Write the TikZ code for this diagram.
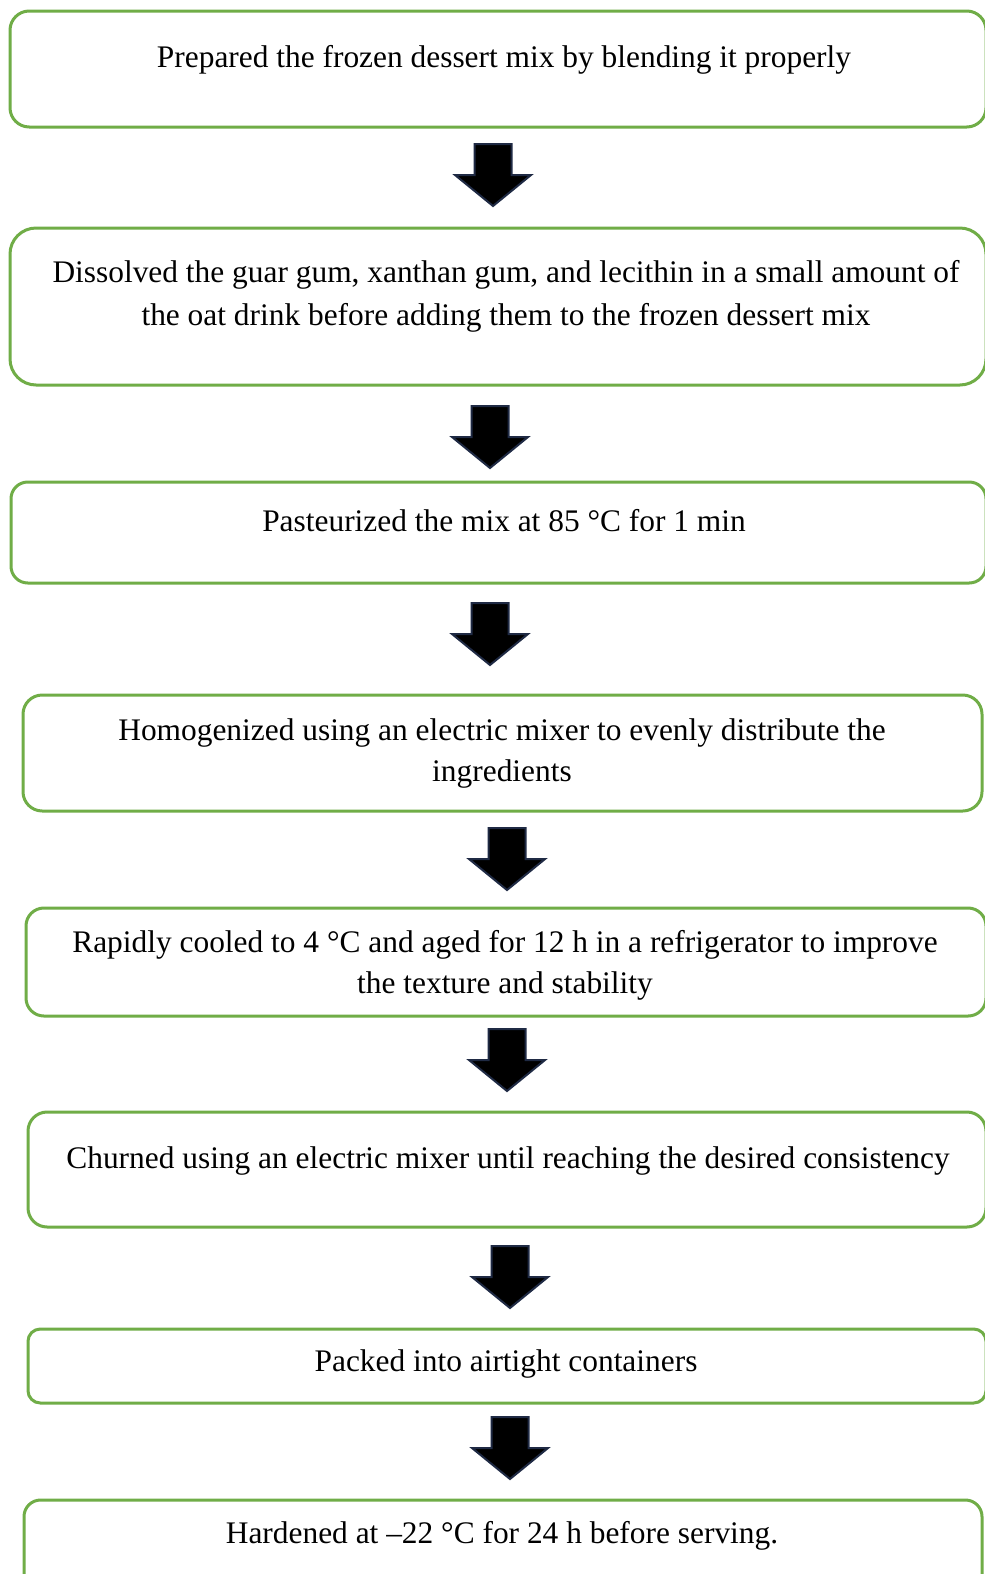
\documentclass[tikz,border=0pt]{standalone}
\usepackage{fontspec}
\setmainfont{Liberation Serif}
\definecolor{boxgreen}{HTML}{70AD47}
\definecolor{arrowline}{HTML}{1F2A44}
\tikzset{
  stepbox/.style={draw=boxgreen, line width=3pt, fill=white, inner sep=0pt, outer sep=0pt},
  steptext/.style={font=\fontsize{31.4}{42}\selectfont, align=center, anchor=base, inner sep=0pt},
  blockarrow/.style={fill=black, draw=arrowline, line width=2pt, line join=miter}
}
\newcommand{\flowbox}[5]{%
  \pgfmathsetmacro{\bw}{#4-#2}%
  \pgfmathsetmacro{\bh}{#5-#3}%
  \pgfmathsetmacro{\br}{0.166*\bh}%
  \node[stepbox, rounded corners=\br pt, minimum width=\bw pt, minimum height=\bh pt]
    (#1) at ({(#2+#4)/2},{(#3+#5)/2}) {};}
\newcommand{\flowarrow}[3]{%
  \coordinate (#1) at (#2,#3);
  \draw[blockarrow] (#1) ++(-18.5,0) -- ++(37,0) -- ++(0,31) -- ++(19.5,0)
    -- ++(-38,31) -- ++(-38,-31) -- ++(19.5,0) -- cycle;}
\begin{document}
\begin{tikzpicture}[x=1pt,y=-1pt]
\useasboundingbox (0,0) rectangle (985,1574);
\clip (0,0) rectangle (985,1574);
\fill[white] (0,0) rectangle (985,1574);

\flowbox{b1}{10}{11}{986}{127}
\flowbox{b2}{10}{228}{986}{385}
\flowbox{b3}{11}{482}{986}{583}
\flowbox{b4}{23}{695}{982}{811}
\flowbox{b5}{26}{908}{986}{1016}
\flowbox{b6}{28}{1112}{986}{1227}
\flowbox{b7}{28}{1329}{986}{1403}
\flowbox{b8}{24}{1500}{982}{1600}

\node[steptext] (t1) at (504,67) {Prepared the frozen dessert mix by blending it properly};
\node[steptext, font=\fontsize{31.4}{43}\selectfont] (t2) at (506,325) {Dissolved the guar gum, xanthan gum, and lecithin in a small amount of\\the oat drink before adding them to the frozen dessert mix};
\node[steptext] (t3) at (504,531) {Pasteurized the mix at 85 °C for 1 min};
\node[steptext, font=\fontsize{31.4}{41}\selectfont] (t4) at (502,781) {Homogenized using an electric mixer to evenly distribute the\\ingredients};
\node[steptext, font=\fontsize{31.4}{41}\selectfont] (t5) at (505,993) {Rapidly cooled to 4 °C and aged for 12 h in a refrigerator to improve\\the texture and stability};
\node[steptext] (t6) at (508,1168) {Churned using an electric mixer until reaching the desired consistency};
\node[steptext] (t7) at (506,1371) {Packed into airtight containers};
\node[steptext] (t8) at (502,1543) {Hardened at –22 °C for 24 h before serving.};

\flowarrow{a1}{493}{144}
\flowarrow{a2}{490}{406}
\flowarrow{a3}{490}{603}
\flowarrow{a4}{507}{828}
\flowarrow{a5}{507}{1029}
\flowarrow{a6}{510}{1246}
\flowarrow{a7}{510}{1417}
\end{tikzpicture}
\end{document}
